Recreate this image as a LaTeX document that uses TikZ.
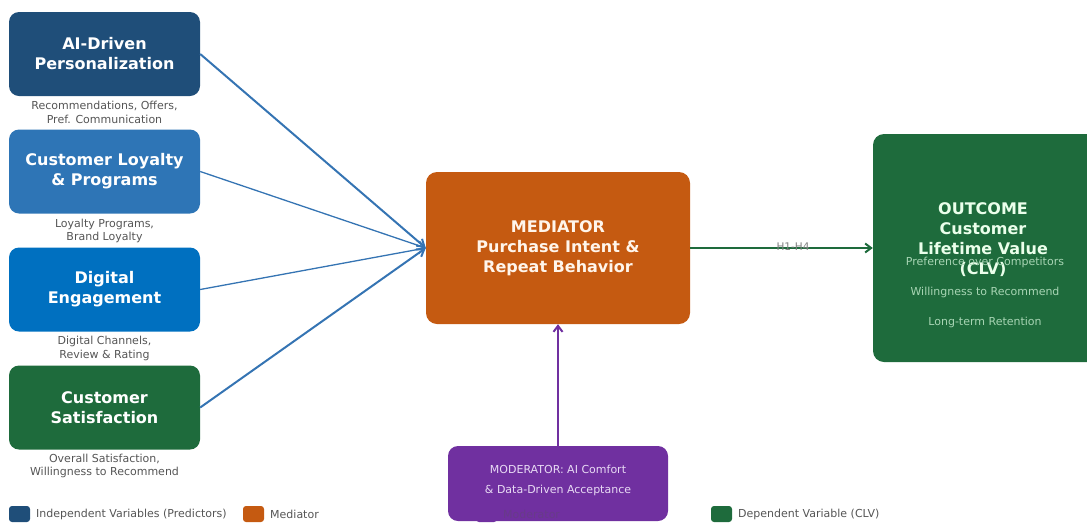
\documentclass[tikz,border=0pt]{standalone}
\usepackage{fontspec}
\setmainfont{DejaVu Sans}
\usetikzlibrary{arrows.meta}
\definecolor{ivdark}{HTML}{1F4E79}
\definecolor{ivmid}{HTML}{2E75B6}
\definecolor{ivdig}{HTML}{0070C0}
\definecolor{dvgreen}{HTML}{1E6B3C}
\definecolor{medorange}{HTML}{C55A11}
\definecolor{modpurple}{HTML}{7030A0}
\definecolor{arrowblue}{HTML}{3574B3}
\definecolor{subgray}{HTML}{555555}
\definecolor{paleout}{HTML}{A8D5B4}
\definecolor{palemod}{HTML}{E8DAF4}
\tikzset{
  x=1pt, y=-1pt,
  predbox/.style={rectangle, rounded corners=10pt, minimum width=191pt, minimum height=84pt,
    text=white, align=center, font=\fontsize{16}{20}\selectfont\bfseries},
  subnote/.style={align=center, text=subgray, font=\fontsize{11}{13.5}\selectfont},
  inarrow/.style={draw=arrowblue, -{Straight Barb[length=7pt,width=9pt]}},
  legpatch/.style={rectangle, rounded corners=3pt, minimum width=21pt, minimum height=16pt, inner sep=0pt},
  legtext/.style={anchor=west, text=subgray, font=\fontsize{11}{12}\selectfont, inner sep=0pt},
  outnote/.style={text=paleout, font=\fontsize{11}{12}\selectfont},
}
\begin{document}
\begin{tikzpicture}
\useasboundingbox (0,0) rectangle (1087,523);

% legend row
\node[legpatch, fill=ivdark] (lg1) at (19.5,514) {};
\node[legtext] (lt1) at (36,514) {Independent Variables (Predictors)};
\node[legpatch, fill=medorange] (lg2) at (253.5,514) {};
\node[legtext] (lt2) at (270,514) {Mediator};
\node[legpatch, fill=modpurple] (lg3) at (486.5,514) {};
\node[legpatch, fill=dvgreen] (lg4) at (721.5,514) {};
\node[legtext] (lt4) at (738,514) {Dependent Variable (CLV)};

% predictors
\node[predbox, fill=ivdark] (b1) at (104.5,54) {AI-Driven\\Personalization};
\node[subnote] (s1) at (104.5,112.5) {Recommendations, Offers,\\Pref. Communication};
\node[predbox, fill=ivmid] (b2) at (104.5,171.5) {Customer Loyalty\\\& Programs};
\node[subnote] (s2) at (104.5,231) {Loyalty Programs,\\Brand Loyalty};
\node[predbox, fill=ivdig] (b3) at (104.5,289.5) {Digital\\Engagement};
\node[subnote] (s3) at (104.5,348.5) {Digital Channels,\\Review \& Rating};
\node[predbox, fill=dvgreen] (b4) at (104.5,407.5) {Customer\\Satisfaction};
\node[subnote] (s4) at (104.5,466) {Overall Satisfaction,\\Willingness to Recommend};

% mediator
\node[rectangle, rounded corners=11pt, minimum width=264pt, minimum height=152pt, fill=medorange,
  text=white!92!orange, align=center, font=\fontsize{16}{20}\selectfont\bfseries] (med) at (558,248)
  {MEDIATOR\\Purchase Intent \&\\Repeat Behavior};

% outcome box, its heading and its indicators
\node[rectangle, rounded corners=11pt, minimum width=226pt, minimum height=228pt, fill=dvgreen] (out) at (986,248) {};
\node[text=white!92!green, align=center, font=\fontsize{16}{20}\selectfont\bfseries] (ot) at (983,240)
  {OUTCOME\\Customer\\Lifetime Value\\(CLV)};
\node[outnote] (o1) at (985,262) {Preference over Competitors};
\node[outnote] (o2) at (985,292) {Willingness to Recommend};
\node[outnote] (o3) at (985,322) {Long-term Retention};

% moderator box and its text
\node[rectangle, rounded corners=10pt, minimum width=220pt, minimum height=75pt, fill=modpurple] (mod) at (558,483.5) {};
\node[text=palemod, align=center, font=\fontsize{11}{20}\selectfont] (mt) at (558,480)
  {MODERATOR: AI Comfort\\\& Data-Driven Acceptance};
\node[legtext, text=modpurple!70!subgray] (lt3) at (503,514) {Moderator};

% predictor paths
\draw[inarrow, line width=2pt] (b1.east) -- (med.west);
\draw[inarrow, line width=1.3pt] (b2.east) -- (med.west);
\draw[inarrow, line width=1.3pt] (b3.east) -- (med.west);
\draw[inarrow, line width=2pt] (b4.east) -- (med.west);

% mediator to outcome
\draw[draw=dvgreen, line width=2pt, -{Straight Barb[length=6pt,width=9pt]}] (med.east) -- (out.west);
\node[text=gray, font=\fontsize{10.5}{12}\selectfont, inner sep=0pt] (hl) at (793,247) {H1-H4};

% moderation path
\draw[draw=modpurple, line width=2pt, -{Straight Barb[length=6pt,width=9pt]}] (mod.north) -- (med.south);
\end{tikzpicture}
\end{document}
